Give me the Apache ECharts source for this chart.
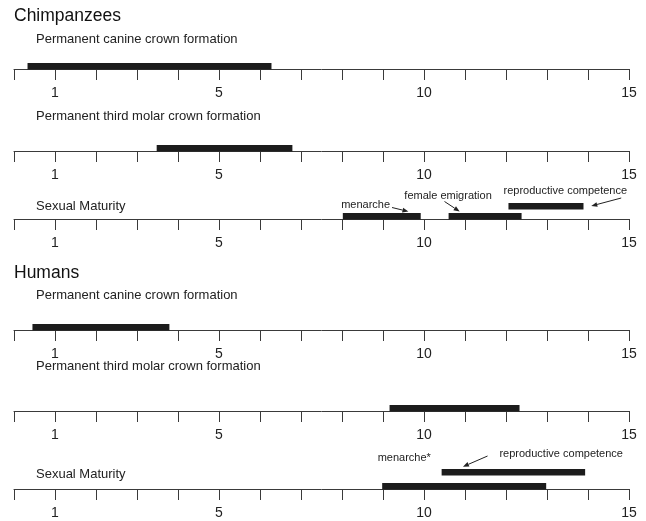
<!DOCTYPE html>
<html>
<head>
<meta charset="utf-8">
<script src="https://cdn.jsdelivr.net/npm/echarts@6/dist/echarts.min.js"></script>
<style>
  html, body { margin: 0; padding: 0; background: #fff; }
  #chart { width: 646px; height: 521px; }
</style>
</head>
<body>
<div id="chart"></div>
<script>
// Age scale (years) shared by every timeline
const axisMin = 0;
const axisMax = 15;
const tickLabels = [1, 5, 10, 15];

// Timeline rows: label, group and the age spans drawn as bars [start, end, lane]
const rowGroups = ['Chimpanzees', 'Chimpanzees', 'Chimpanzees', 'Humans', 'Humans', 'Humans'];
const rowLabels = [
  'Permanent canine crown formation',
  'Permanent third molar crown formation',
  'Sexual Maturity',
  'Permanent canine crown formation',
  'Permanent third molar crown formation',
  'Sexual Maturity'
];
const chimpCanine = [[0.33, 6.28, 0]];
const chimpThirdMolar = [[3.48, 6.79, 0]];
const chimpMaturity = [[8.02, 9.92, 0], [10.6, 12.38, 0], [12.06, 13.89, 1]];
const humanCanine = [[0.45, 3.79, 0]];
const humanThirdMolar = [[9.16, 12.33, 0]];
const humanMaturity = [[8.98, 12.98, 0], [10.43, 13.93, 1]];
const rowSpans = [chimpCanine, chimpThirdMolar, chimpMaturity, humanCanine, humanThirdMolar, humanMaturity];

// Event names written beside the sexual-maturity bars
const chimpEvents = ['menarche', 'female emigration', 'reproductive competence'];
const humanEvents = ['menarche*', 'reproductive competence'];

// ---- layout ----
const W = 646, H = 521;
const axisLineY = [69, 151, 219, 330, 411, 489];
const rowLabelY = [40, 117, 207, 296, 367, 475];
const groupTitleY = { Chimpanzees: 17.5, Humans: 274 };
const laneLift = [[0], [0], [0, 10], [0], [0], [0, 14]];
const barThick = 6.5;
const gridLeft = 14, gridWidth = 615, gridHeight = 40;
const ink = '#1c1c1c';
const axisInk = '#3a3a3a';
const font = 'Liberation Sans, Arial, Helvetica, sans-serif';

const grids = [], xAxes = [], yAxes = [], series = [];
axisLineY.forEach((y, i) => {
  grids.push({ left: gridLeft, width: gridWidth, top: y - gridHeight, height: gridHeight });
  xAxes.push({
    type: 'value', gridIndex: i, min: axisMin, max: axisMax, interval: 1,
    position: 'bottom',
    axisLine: { show: true, onZero: false, lineStyle: { color: axisInk, width: 1 } },
    axisTick: { show: true, inside: false, length: 11, lineStyle: { color: axisInk, width: 1 } },
    splitLine: { show: false },
    axisLabel: {
      show: true, margin: 17, fontSize: 14, color: '#222', fontFamily: font,
      formatter: v => tickLabels.indexOf(v) >= 0 ? String(v) : ''
    }
  });
  yAxes.push({ type: 'value', gridIndex: i, min: 0, max: 1, show: false });
  const lifts = laneLift[i];
  series.push({
    type: 'custom', xAxisIndex: i, yAxisIndex: i,
    data: rowSpans[i],
    encode: { x: [0, 1] },
    clip: false,
    renderItem: (params, api) => {
      const a = api.coord([api.value(0), 0]);
      const b = api.coord([api.value(1), 0]);
      const lift = lifts[api.value(2)] || 0;
      const bottom = a[1] + 0.5 - lift;
      return {
        type: 'rect',
        shape: { x: a[0], y: bottom - barThick, width: b[0] - a[0], height: barThick },
        style: { fill: ink }
      };
    }
  });
});

const graphics = [];
Object.keys(groupTitleY).forEach(g => {
  graphics.push({
    type: 'text', left: 14, top: groupTitleY[g] - 10,
    style: { text: g, font: '17.5px ' + font, fill: '#111' }
  });
});
rowLabels.forEach((t, i) => {
  graphics.push({
    type: 'text', left: 36, top: rowLabelY[i] - 7.5,
    style: { text: t, font: '13px ' + font, fill: '#222' }
  });
});

const chart = echarts.init(document.getElementById('chart'), null, { renderer: 'canvas' });
chart.setOption({
  animation: false,
  backgroundColor: '#fff',
  grid: grids, xAxis: xAxes, yAxis: yAxes, series: series,
  graphic: graphics
});

// Event labels and their pointers, placed on the age scale of their row
// [row, text, textAge, textRise, arrow: [fromAge, fromRise, toAge, toRise] | null]
const notes = [
  [2, chimpEvents[0], 7.98, 14, [9.22, 11.5, 9.62, 7.5]],
  [2, chimpEvents[1], 9.52, 23, [10.5, 17.5, 10.87, 7.5]],
  [2, chimpEvents[2], 11.94, 28, [14.81, 21, 14.08, 13]],
  [5, humanEvents[0], 8.87, 31.5, null],
  [5, humanEvents[1], 11.84, 35, [11.55, 33, 10.95, 22.3]]
];
function px(row, age) {
  return chart.convertToPixel({ xAxisIndex: row }, age);
}
notes.forEach(n => {
  const row = n[0], base = axisLineY[row];
  graphics.push({
    type: 'text', x: px(row, n[2]), y: base - n[3],
    style: { text: n[1], font: '11px ' + font, fill: '#222', textVerticalAlign: 'middle', verticalAlign: 'middle' }
  });
  if (n[4]) {
    const ar = n[4];
    const x1 = px(row, ar[0]), y1 = base - ar[1];
    const x2 = px(row, ar[2]), y2 = base - ar[3];
    const ang = Math.atan2(y2 - y1, x2 - x1);
    const hl = 6, hw = 2.4;
    const bx = x2 - hl * Math.cos(ang), by = y2 - hl * Math.sin(ang);
    graphics.push({
      type: 'line', shape: { x1: x1, y1: y1, x2: bx, y2: by },
      style: { stroke: '#222', lineWidth: 1 }
    });
    graphics.push({
      type: 'polygon',
      shape: { points: [
        [x2, y2],
        [bx + hw * Math.sin(ang), by - hw * Math.cos(ang)],
        [bx - hw * Math.sin(ang), by + hw * Math.cos(ang)]
      ] },
      style: { fill: '#222' }
    });
  }
});
chart.setOption({ graphic: graphics });
</script>
</body>
</html>
